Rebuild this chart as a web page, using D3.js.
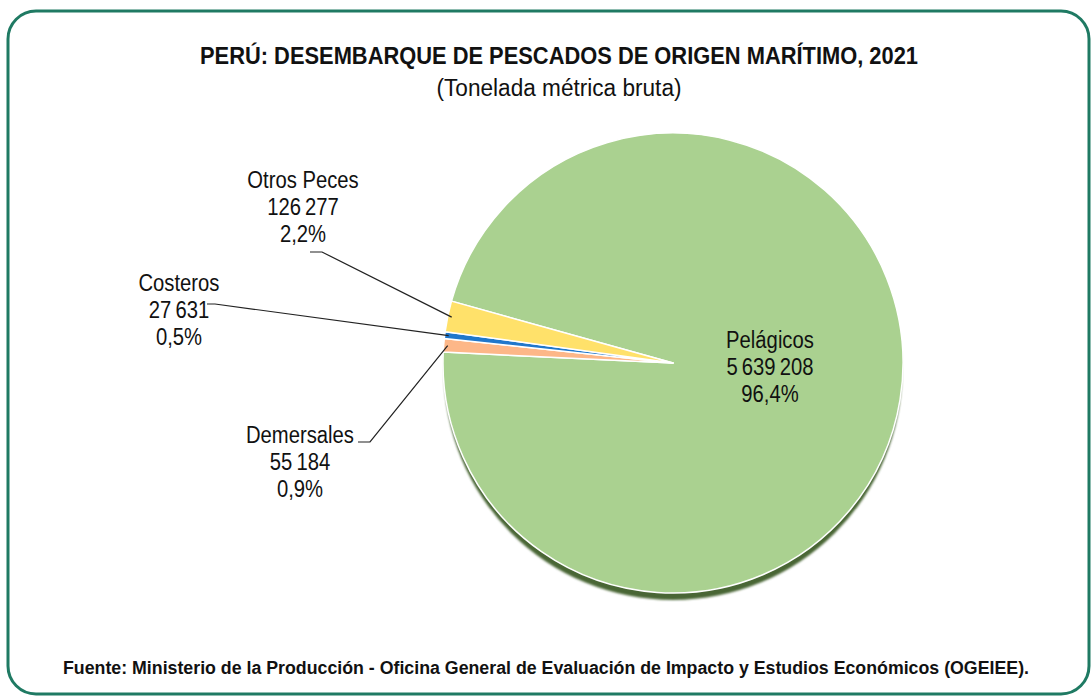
<!DOCTYPE html>
<html>
<head>
<meta charset="utf-8">
<script src="https://cdn.jsdelivr.net/npm/d3@7"></script>
<style>
  body { margin: 0; background: #fff; }
  svg { display: block; }
  text { font-family: "Liberation Sans", Arial, sans-serif; fill: #111; }
</style>
</head>
<body>
<div id="chart"></div>
<script>
// data
const categories = ["Pelágicos", "Demersales", "Costeros", "Otros Peces"];
const values = [5639208, 55184, 27631, 126277];
const percents = ["96,4%", "0,9%", "0,5%", "2,2%"];
const colors = ["#a4ca8b", "#f4b183", "#1f73c4", "#ffd966"];

const width = 1092, height = 697;
const cx = 673, cy = 363, radius = 230;

const svg = d3.select("#chart").append("svg")
    .attr("width", width)
    .attr("height", height);

// squeeze text horizontally to mimic a narrow face
function narrow(sel, k) {
    sel.each(function() {
        const w = this.getComputedTextLength();
        d3.select(this).attr("textLength", w * k).attr("lengthAdjust", "spacingAndGlyphs");
    });
}

// frame
svg.append("rect")
    .attr("x", 8).attr("y", 11)
    .attr("width", 1081).attr("height", 683)
    .attr("rx", 28).attr("ry", 28)
    .attr("fill", "#fff")
    .attr("stroke", "#1f7a63")
    .attr("stroke-width", 3);

// titles
svg.append("text")
    .attr("x", 559).attr("y", 64)
    .attr("text-anchor", "middle")
    .attr("font-size", 23).attr("font-weight", "bold")
    .attr("textLength", 718).attr("lengthAdjust", "spacingAndGlyphs")
    .text("PERÚ: DESEMBARQUE DE PESCADOS DE ORIGEN MARÍTIMO, 2021");

svg.append("text")
    .attr("x", 559).attr("y", 96)
    .attr("text-anchor", "middle")
    .attr("font-size", 23)
    .attr("textLength", 245).attr("lengthAdjust", "spacingAndGlyphs")
    .text("(Tonelada métrica bruta)");

svg.append("text")
    .attr("x", 546).attr("y", 674)
    .attr("text-anchor", "middle")
    .attr("font-size", 17.5).attr("font-weight", "bold")
    .attr("textLength", 966).attr("lengthAdjust", "spacingAndGlyphs")
    .text("Fuente: Ministerio de la Producción - Oficina General de Evaluación de Impacto y Estudios Económicos (OGEIEE).");

// gradients for slices
const defs = svg.append("defs");
colors.forEach((c, i) => {
    const g = defs.append("linearGradient")
        .attr("id", "grad" + i)
        .attr("gradientUnits", "userSpaceOnUse")
        .attr("x1", cx - radius).attr("y1", cy - radius)
        .attr("x2", cx + radius).attr("y2", cy + radius);
    g.append("stop").attr("offset", "0%").attr("stop-color", d3.color(c).brighter(0.1));
    g.append("stop").attr("offset", "100%").attr("stop-color", d3.color(c).darker(0.1));
});
defs.append("filter").attr("id", "blur")
    .append("feGaussianBlur").attr("stdDeviation", 1.2);

const startA = 285.6 * Math.PI / 180;
const pie = d3.pie().sort(null).startAngle(startA).endAngle(startA + 2 * Math.PI);
const arcs = pie(values);
const arc = d3.arc().innerRadius(0).outerRadius(radius);

const g = svg.append("g").attr("transform", `translate(${cx},${cy})`);

// shadow
g.append("circle")
    .attr("cx", 0).attr("cy", 8)
    .attr("r", radius - 1)
    .attr("fill", "#4a6636")
    .attr("filter", "url(#blur)");

g.selectAll("path.slice")
    .data(arcs)
    .enter()
    .append("path")
        .attr("class", "slice")
        .attr("d", arc)
        .attr("fill", (d, i) => `url(#grad${i})`)
        .attr("stroke", "#fff")
        .attr("stroke-width", 1.5)
        .attr("stroke-linejoin", "round");

// labels
const labelPos = [
    {x: 770, y: 348},   // Pelágicos
    {x: 300, y: 443},   // Demersales
    {x: 179, y: 291},   // Costeros
    {x: 303, y: 188}    // Otros Peces
];
const lineH = 27;

arcs.forEach((d, i) => {
    const t = svg.append("text")
        .attr("text-anchor", "middle")
        .attr("font-size", 23);
    [categories[i], d3.format(",")(values[i]).replace(/,/g, "\u2009"), percents[i]].forEach((s, k) => {
        t.append("tspan")
            .attr("x", labelPos[i].x)
            .attr("y", labelPos[i].y + k * lineH)
            .text(s);
    });
    narrow(t.selectAll("tspan"), 0.88);
});

// leader lines, end points on the slice rims
const rimPoint = (d, frac, r) => {
    const a = d.startAngle + (d.endAngle - d.startAngle) * frac;
    return [cx + r * Math.sin(a), cy - r * Math.cos(a)];
};
const leaders = [
    {i: 1, pts: [[358, 442], [370, 442]]},
    {i: 2, pts: [[207, 304], [215, 304]]},
    {i: 3, pts: [[310, 252], [322, 252]]}
];
leaders.forEach(l => {
    const end = rimPoint(arcs[l.i], 0.5, radius - 4);
    svg.append("path")
        .attr("d", d3.line()([...l.pts, end]))
        .attr("fill", "none")
        .attr("stroke", "#222")
        .attr("stroke-width", 1.2);
});
</script>
</body>
</html>
